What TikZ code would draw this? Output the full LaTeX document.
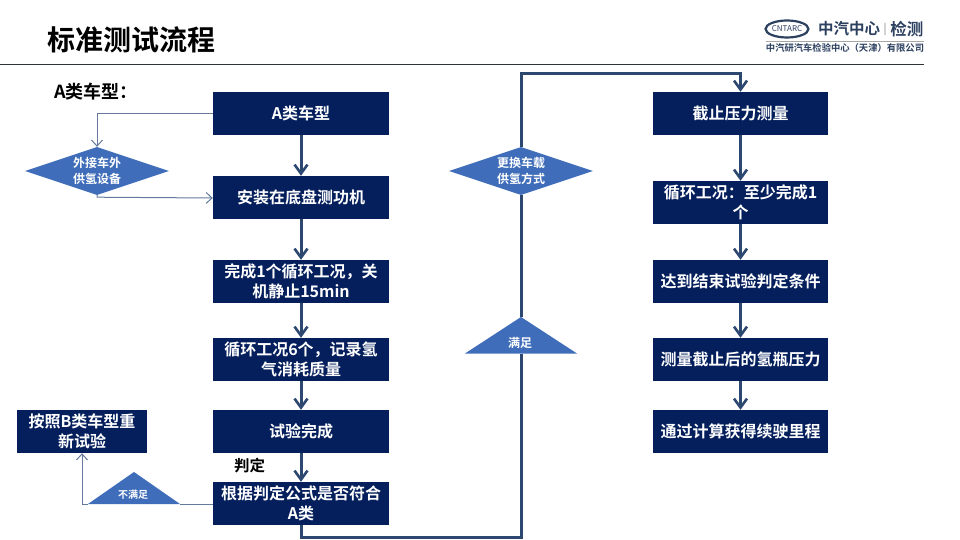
\documentclass[tikz,border=0pt]{standalone}
\usepackage{fontspec}
\setmainfont{Noto Sans CJK SC}[BoldFont={* Bold}]
\usetikzlibrary{arrows.meta,shapes.geometric}
\definecolor{boxblue}{HTML}{041F5C}
\definecolor{flowblue}{HTML}{3F6DB9}
\definecolor{linkblue}{HTML}{2D4870}
\definecolor{thinblue}{HTML}{64799B}
\definecolor{rulegray}{HTML}{2E3338}
\definecolor{logoblue}{HTML}{2C4060}
\tikzset{
  stepbox/.style={draw=none,fill=boxblue,text=white,minimum width=176pt,minimum height=43pt,inner sep=0pt,align=center,font=\fontsize{16}{20.5}\selectfont\bfseries},
  choice/.style={diamond,aspect=3,fill=flowblue,text=white,minimum width=144pt,minimum height=48pt,inner sep=0pt,align=center,font=\fontsize{12}{15.5}\selectfont\bfseries},
  heavy/.style={draw=linkblue,line width=3pt,-{Straight Barb[length=9pt,width=13pt,line width=2.6pt]}},
  heavyplain/.style={draw=linkblue,line width=3pt},
  light/.style={draw=thinblue,line width=1pt,-{Straight Barb[length=6pt,width=11pt,line width=1pt]}},
  lightplain/.style={draw=thinblue,line width=1pt},
  tritext/.style={text=white,inner sep=0pt,font=\bfseries},
  plaintext/.style={text=black,inner sep=0pt,font=\bfseries}
}
\begin{document}
\begin{tikzpicture}[x=1pt,y=-1pt]
\useasboundingbox (0,0) rectangle (960,540);
% header
\node[plaintext,anchor=west,font=\fontsize{28}{30}\selectfont\bfseries] (title) at (47,40) {标准测试流程};
\coordinate (ruleL) at (0,64.5);
\coordinate (ruleR) at (924,64.5);
\draw[rulegray,line width=1pt] (ruleL) -- (ruleR);
% logo
\node[draw=logoblue,line width=2.2pt,ellipse,minimum width=41pt,minimum height=17pt,inner sep=0pt,text=logoblue,font=\fontsize{8}{8}\selectfont] (logomark) at (787,29) {CNTARC};
\node[text=logoblue,anchor=west,inner sep=0pt,font=\fontsize{15.5}{17}\selectfont\bfseries] (logoa) at (818,29) {中汽中心};
\node[text=gray,inner sep=0pt,font=\fontsize{11}{12}\selectfont] (logobar) at (885,29) {|};
\node[text=logoblue,anchor=east,inner sep=0pt,font=\fontsize{16.5}{17}\selectfont\bfseries] (logob) at (923.5,29) {检测};
\coordinate (logoL) at (766,41);
\coordinate (logoR) at (924,41);
\draw[gray!70,line width=0.7pt] (logoL) -- (logoR);
\node[text=logoblue,inner sep=0pt,font=\fontsize{9.3}{10}\selectfont\bfseries] (logoc) at (845,47.5) {中汽研汽车检验中心（天津）有限公司};
% labels
\node[plaintext,anchor=west,font=\fontsize{18}{18}\selectfont\bfseries] (cap) at (54,92) {A类车型：};
\node[plaintext,anchor=west,font=\fontsize{15.5}{18}\selectfont\bfseries] (judge) at (234,466) {判定};
% left column
\node[stepbox] (a1) at (301,113.5) {A类车型};
\node[stepbox] (a2) at (301,197.5) {安装在底盘测功机};
\node[stepbox] (a3) at (301,281.5) {完成1个循环工况，关\\机静止15min};
\node[stepbox] (a4) at (301,359.5) {循环工况6个，记录氢\\气消耗质量};
\node[stepbox] (a5) at (301,431.5) {试验完成};
\node[stepbox] (a6) at (301,503.5) {根据判定公式是否符合\\A类};
\node[stepbox,minimum width=130pt] (b) at (82,431.5) {按照B类车型重\\新试验};
% right column
\node[stepbox,minimum width=175pt] (c1) at (740.5,113.5) {截止压力测量};
\node[stepbox,minimum width=175pt] (c2) at (740.5,202.5) {循环工况：至少完成1\\个};
\node[stepbox,minimum width=175pt] (c3) at (740.5,281.5) {达到结束试验判定条件};
\node[stepbox,minimum width=175pt] (c4) at (740.5,359.5) {测量截止后的氢瓶压力};
\node[stepbox,minimum width=175pt] (c5) at (740.5,431.5) {通过计算获得续驶里程};
% diamonds
\node[choice] (d1) at (97,171) {外接车外\\供氢设备};
\node[choice] (d2) at (521,171) {更换车载\\供氢方式};
% triangles
\coordinate (t1apex) at (134,472);
\coordinate (t1l) at (88,504);
\coordinate (t1r) at (180,504);
\fill[flowblue] (t1apex) -- (t1r) -- (t1l) -- cycle;
\node[tritext,font=\fontsize{10}{12}\selectfont\bfseries] (t1) at (133,495) {不满足};
\coordinate (t2apex) at (521,317);
\coordinate (t2l) at (465,353.5);
\coordinate (t2r) at (577,353.5);
\coordinate (t2base) at (521,353.5);
\fill[flowblue] (t2apex) -- (t2r) -- (t2l) -- cycle;
\node[tritext,font=\fontsize{12}{14}\selectfont\bfseries] (t2) at (520,343) {满足};
% heavy connectors
\draw[heavy] (a1) -- (a2);
\draw[heavy] (a2) -- (a3);
\draw[heavy] (a3) -- (a4);
\draw[heavy] (a4) -- (a5);
\draw[heavy] (a5) -- (a6);
\draw[heavy] (c1) -- (c2);
\draw[heavy] (c2) -- (c3);
\draw[heavy] (c3) -- (c4);
\draw[heavy] (c4) -- (c5);
\coordinate (lowY) at (0,537);
\draw[heavyplain,line join=miter] (a6.south) -- (a6.south |- lowY) -- (t2base |- lowY) -- (t2base);
\draw[heavyplain] (t2apex) -- (d2.south);
\coordinate (topY) at (0,74);
\draw[heavy,line join=miter] (d2.north) -- (d2.north |- topY) -- (c1.north |- topY) -- (c1.north);
% thin connectors
\draw[light] (a1.west) -| (d1.north);
\draw[light] (d1.south) -- ++(0,2) -- (a2.west |- 0,198);
\draw[lightplain] (a6.west |- t1r) -- (t1r);
\draw[light] (t1l) -- ++(-6,0) -- (b.south -| 82,0);
\end{tikzpicture}
\end{document}
